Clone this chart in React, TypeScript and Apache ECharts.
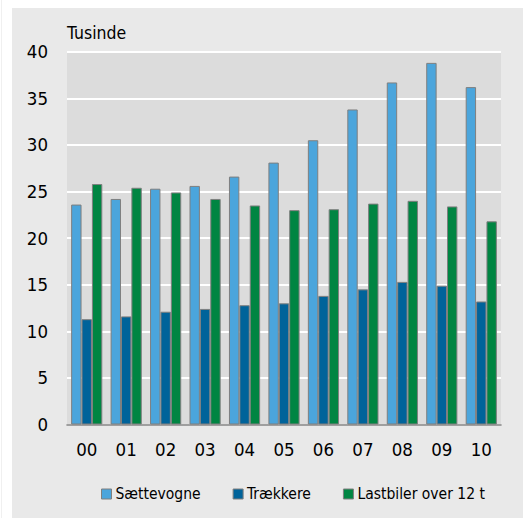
import React, { useEffect, useRef } from "react";
import * as echarts from "echarts";

const categories = ["00", "01", "02", "03", "04", "05", "06", "07", "08", "09", "10"];
const saettevogne = [23.6, 24.2, 25.3, 25.6, 26.6, 28.1, 30.5, 33.8, 36.7, 38.8, 36.2];
const traekkere = [11.3, 11.6, 12.1, 12.4, 12.8, 13.0, 13.8, 14.5, 15.3, 14.9, 13.2];
const lastbiler = [25.8, 25.4, 24.9, 24.2, 23.5, 23.0, 23.1, 23.7, 24.0, 23.4, 21.8];
const seriesNames = ["Sættevogne", "Trækkere", "Lastbiler over 12 t"];
const seriesColors = ["#4ba5dc", "#00639a", "#008542"];
const yTicks = { min: 0, max: 40, interval: 5 };
const unitLabel = "Tusinde";

const FONT = "'DejaVu Sans Condensed', 'Liberation Sans Narrow', 'DejaVu Sans', sans-serif";

export default function App() {
  const ref = useRef<HTMLDivElement>(null);
  useEffect(() => {
    if (!ref.current) return;
    const chart = echarts.init(ref.current, undefined, { renderer: "svg" });
    const data = [saettevogne, traekkere, lastbiler];
    chart.setOption({
      animation: false,
      backgroundColor: "#ffffff",
      textStyle: { fontFamily: FONT },
      graphic: [
        { type: "rect", shape: { x: 12, y: 8, width: 511, height: 510 }, style: { fill: "#e9e9e9" }, z: -10 },
        { type: "line", shape: { x1: 1.5, y1: 0, x2: 1.5, y2: 518 }, style: { stroke: "#f0f0f0", lineWidth: 1 }, z: -10 },
        {
          type: "text",
          x: 67,
          y: 33,
          style: { text: unitLabel, font: `17.5px ${FONT}`, fill: "#000", verticalAlign: "middle" },
        },
      ],
      grid: {
        left: 67,
        right: 22,
        top: 51.7,
        bottom: 93.5,
        show: true,
        backgroundColor: "#dcdcdc",
        borderWidth: 0,
        z: 0,
      },
      legend: {
        left: 96,
        top: 481,
        itemWidth: 10,
        itemHeight: 10,
        itemGap: 32,
        icon: "rect",
        textStyle: { fontSize: 15.5, color: "#000", fontFamily: FONT, padding: [0, 0, 0, -1] },
        data: seriesNames.map((n, i) => ({
          name: n,
          itemStyle: { color: seriesColors[i], borderColor: "#7f7f7f", borderWidth: 1 },
        })),
      },
      xAxis: {
        type: "category",
        data: categories,
        axisTick: { show: false },
        axisLine: { show: true, lineStyle: { color: "#808080", width: 1.5 } },
        axisLabel: { color: "#000", fontSize: 18.5, margin: 15, fontFamily: FONT },
      },
      yAxis: {
        type: "value",
        min: yTicks.min,
        max: yTicks.max,
        interval: yTicks.interval,
        axisLine: { show: false },
        axisTick: { show: false },
        axisLabel: { color: "#000", fontSize: 18.5, margin: 19, fontFamily: FONT },
        splitLine: { show: true, lineStyle: { color: "#ffffff", width: 2 } },
      },
      series: seriesNames.map((n, i) => ({
        name: n,
        type: "bar",
        data: data[i],
        barGap: "0%",
        barCategoryGap: "21%",
        itemStyle: { color: seriesColors[i], borderColor: "#7f7f7f", borderWidth: 1 },
      })),
    });
    return () => chart.dispose();
  }, []);
  return (
    <div
      ref={ref}
      style={{ position: "fixed", left: 0, top: 0, width: 523, height: 518 }}
    />
  );
}
